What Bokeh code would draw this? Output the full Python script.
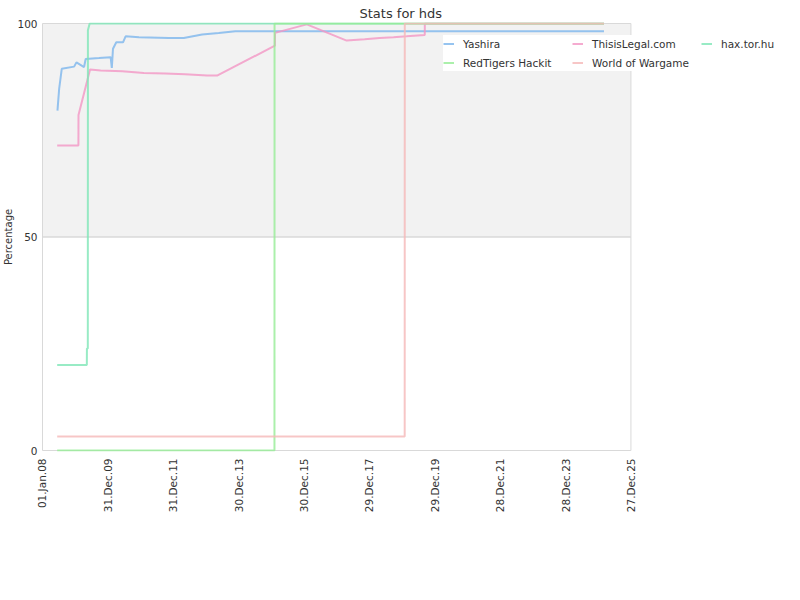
import pandas as pd
from math import pi
from bokeh.plotting import figure
from bokeh.models import (FixedTicker, DatetimeTickFormatter, BoxAnnotation, Legend,
                          LegendItem, Range1d)
from bokeh.embed import file_html
from bokeh.resources import INLINE

# ---------------- data ----------------
x_start = "2008-01-01"
x_end = "2025-12-27"
tick_dates = ["2008-01-01", "2009-12-31", "2011-12-31", "2013-12-30", "2015-12-30",
              "2017-12-29", "2019-12-29", "2021-12-28", "2023-12-28", "2025-12-27"]
y_ticks = [0, 50, 100]

yashira_dates = ["2008-06-16", "2008-07-05", "2008-08-03", "2008-12-19", "2009-01-14",
                 "2009-04-09", "2009-04-27", "2009-09-23", "2010-01-31", "2010-02-13",
                 "2010-02-26", "2010-04-04", "2010-06-18", "2010-07-17", "2010-12-13",
                 "2011-11-12", "2012-04-27", "2012-11-17", "2013-05-22", "2013-11-23",
                 "2025-03-01"]
yashira_vals = [79.6, 84.7, 89.4, 89.9, 90.9,
                89.8, 91.7, 91.9, 92.1, 89.6,
                94.1, 95.6, 95.6, 97.0, 96.8,
                96.6, 96.6, 97.4, 97.8, 98.2,
                98.2]

legal_dates = ["2008-06-13", "2009-02-05", "2009-02-06", "2009-06-15", "2009-10-11",
               "2010-06-10", "2011-02-06", "2011-10-02", "2012-05-11", "2013-01-11",
               "2013-05-03", "2015-02-08", "2015-02-09", "2016-01-30", "2017-04-19",
               "2017-11-06", "2018-04-22", "2018-09-25", "2019-02-16", "2019-09-08",
               "2019-09-09", "2025-03-01"]
legal_vals = [71.4, 71.4, 78.6, 89.2, 89.0,
              88.8, 88.4, 88.3, 88.1, 87.8,
              87.8, 94.8, 97.8, 99.8, 96.0,
              96.3, 96.6, 96.8, 97.0, 97.3,
              100.0, 100.0]

hax_dates = ["2008-06-13", "2009-05-10", "2009-05-11", "2009-05-21", "2009-05-22",
             "2009-06-11", "2025-03-01"]
hax_vals = [20.0, 20.0, 23.9, 23.9, 98.4, 100.0, 100.0]

red_dates = ["2008-06-13", "2015-02-03", "2015-02-04", "2025-03-01"]
red_vals = [0.0, 0.0, 100.0, 100.0]

wow_dates = ["2008-06-13", "2019-01-27", "2019-01-28", "2025-03-01"]
wow_vals = [3.3, 3.3, 100.0, 100.0]

series_names = ["Yashira", "ThisisLegal.com", "hax.tor.hu", "RedTigers Hackit", "World of Wargame"]
series_dates = [yashira_dates, legal_dates, hax_dates, red_dates, wow_dates]
series_vals = [yashira_vals, legal_vals, hax_vals, red_vals, wow_vals]
series_colors = ["#7cb5ec", "#f296c4", "#7ee6b6", "#96ec96", "#f5b8b8"]

# ---------------- layout ----------------
FONT = "DejaVu Sans"
TXT = "#333333"
W, H = 792, 590
PLOT_L, PLOT_R, PLOT_T, PLOT_B = 40, 630, 23, 450   # where the data area sits
FRAME_L, FRAME_R, FRAME_T, FRAME_B = 39, W, 22, 451  # frame (1px slack, wider to the right)

t0 = pd.Timestamp(x_start)
t1 = pd.Timestamp(x_end)
ms_per_px = (t1 - t0) / (PLOT_R - PLOT_L)
xr = Range1d(t0 - ms_per_px * (PLOT_L - FRAME_L), t1 + ms_per_px * (FRAME_R - PLOT_R))
u_per_px = 100.0 / (PLOT_B - PLOT_T)
yr = Range1d(0 - u_per_px * (FRAME_B - PLOT_B), 100 + u_per_px * (PLOT_T - FRAME_T))

p = figure(width=W, height=H, x_axis_type="datetime",
           output_backend="svg", toolbar_location=None,
           x_range=xr, y_range=yr,
           min_border_left=FRAME_L, min_border_right=W - FRAME_R, min_border_top=FRAME_T,
           min_border_bottom=H - FRAME_B, background_fill_color="white",
           border_fill_color="white")

p.outline_line_color = None

p.title.text = "Stats for hds"
p.title.align = "left"
p.title.offset = 318
p.title.standoff = 4
p.title.text_font = FONT
p.title.text_font_size = "13px"
p.title.text_font_style = "normal"
p.title.text_color = TXT

ms0 = t0.value / 1e6
ms1 = t1.value / 1e6
band = BoxAnnotation(left=ms0, right=ms1, bottom=50, top=100, fill_color="#f2f2f2",
                     fill_alpha=1, line_color="#d9d9d9", line_alpha=1, line_width=1,
                     level="underlay")
lower = BoxAnnotation(left=ms0, right=ms1, bottom=0, top=50, fill_color="white",
                      fill_alpha=0, line_color="#d9d9d9", line_alpha=1, line_width=1,
                      level="underlay")
p.add_layout(band)
p.add_layout(lower)

p.xgrid.grid_line_color = None
p.ygrid.grid_line_color = None

# x axis
fmt = "%d.%b.%y"
p.xaxis.ticker = FixedTicker(ticks=[pd.Timestamp(d).value / 1e6 for d in tick_dates])
p.xaxis.formatter = DatetimeTickFormatter(microseconds=fmt, milliseconds=fmt, seconds=fmt,
                                          minsec=fmt, minutes=fmt, hourmin=fmt, hours=fmt,
                                          days=fmt, months=fmt, years=fmt)
p.xaxis.major_label_orientation = pi / 2
p.xaxis.major_label_standoff = 7

# y axis
p.yaxis.ticker = FixedTicker(ticks=y_ticks)
p.yaxis.axis_label = "Percentage"
p.yaxis.axis_label_standoff = 0
p.yaxis.major_label_standoff = 4
p.yaxis.axis_label_text_font = FONT
p.yaxis.axis_label_text_font_size = "10px"
p.yaxis.axis_label_text_font_style = "normal"
p.yaxis.axis_label_text_color = TXT

for ax in (p.xaxis, p.yaxis):
    ax.axis_line_color = None
    ax.major_tick_line_color = None
    ax.minor_tick_line_color = None
    ax.major_tick_out = 0
    ax.major_tick_in = 0
    ax.minor_tick_out = 0
    ax.minor_tick_in = 0
    ax.major_label_text_font = FONT
    ax.major_label_text_font_size = "10.5px"
    ax.major_label_text_color = TXT

items = []
for name, d, v, c in zip(series_names, series_dates, series_vals, series_colors):
    r = p.line(x=pd.to_datetime(d), y=v, line_color=c, line_width=2, line_alpha=0.8)
    items.append(LegendItem(label=name, renderers=[r]))

legend = Legend(items=items, location=(441 - FRAME_L, FRAME_B - 71),
                orientation="horizontal", ncols=3,
                glyph_width=11, glyph_height=17, label_height=17, label_width=107,
                label_standoff=9, spacing=2, padding=5, margin=0,
                label_text_font=FONT, label_text_font_size="10.5px",
                label_text_color=TXT, border_line_color=None,
                background_fill_color="white", background_fill_alpha=1)
p.add_layout(legend)

open("out.html", "w").write(file_html(p, INLINE))
